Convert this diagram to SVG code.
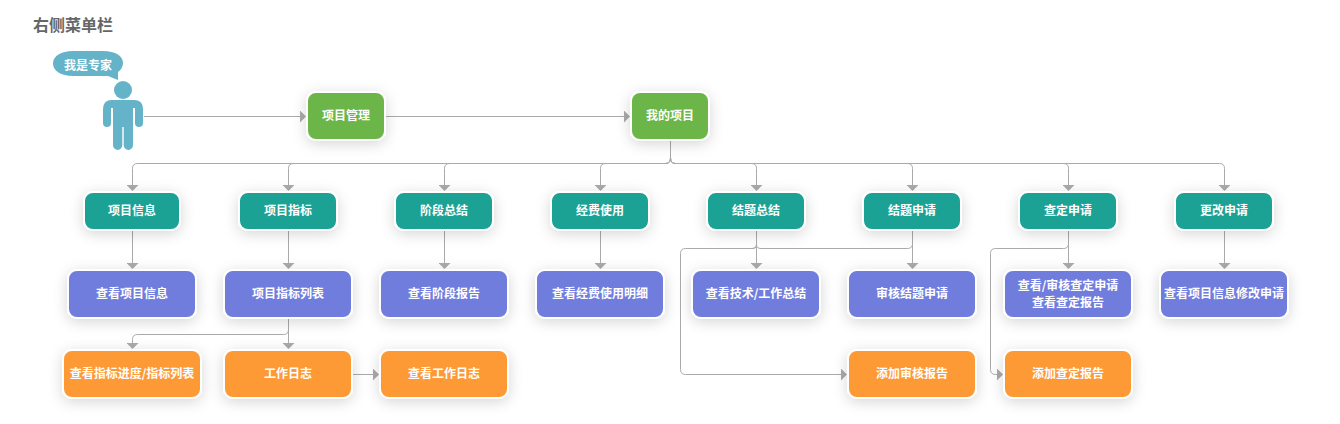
<svg xmlns="http://www.w3.org/2000/svg" width="1340" height="424" viewBox="0 0 1340 424">
<style>
text{font-family:"Noto Sans CJK SC","Liberation Sans",sans-serif;font-weight:700;font-size:12px;fill:#fff;text-anchor:middle}
.title{font-size:16px;fill:#666;text-anchor:start}
.n rect{stroke:#fff;stroke-width:2;filter:url(#sh)}
.g rect{fill:#6cb648}.t rect{fill:#1ba295}.p rect{fill:#717ddc}.o rect{fill:#fe9a34}
#connectors path{fill:none;stroke:#aaa;stroke-width:1;marker-end:url(#ah)}
#connectors path.j{marker-end:none}
.fig{fill:#65b3c8}
</style>
<defs>
<filter id="sh" x="-40%" y="-60%" width="180%" height="220%"><feDropShadow dx="0" dy="3" stdDeviation="7" flood-color="#000" flood-opacity=".16"/></filter>
<marker id="ah" viewBox="0 0 6 12" refX="0" refY="6" markerWidth="6" markerHeight="12" markerUnits="userSpaceOnUse" orient="auto"><path d="M0 0L6 6L0 12Z" fill="#aaa"/></marker>
</defs>
<text class="title" x="33" y="31">右侧菜单栏</text>
<g id="connectors">
<path d="M144 116.500H300"/>
<path d="M386 116.500H624"/>
<path d="M670.500 141V158Q670.500 163.500 665.500 163.500H137.500Q132.500 163.500 132.500 168.500V185"/>
<path d="M670.500 141V158Q670.500 163.500 665.500 163.500H293.500Q288.500 163.500 288.500 168.500V185"/>
<path d="M670.500 141V158Q670.500 163.500 665.500 163.500H449.500Q444.500 163.500 444.500 168.500V185"/>
<path d="M670.500 141V158Q670.500 163.500 665.500 163.500H605.500Q600.500 163.500 600.500 168.500V185"/>
<path d="M670.500 141V158Q670.500 163.500 675.500 163.500H751.500Q756.500 163.500 756.500 168.500V185"/>
<path d="M670.500 141V158Q670.500 163.500 675.500 163.500H907.500Q912.500 163.500 912.500 168.500V185"/>
<path d="M670.500 141V158Q670.500 163.500 675.500 163.500H1063.500Q1068.500 163.500 1068.500 168.500V185"/>
<path d="M670.500 141V158Q670.500 163.500 675.500 163.500H1219.500Q1224.500 163.500 1224.500 168.500V185"/>
<path d="M132.500 231V263"/>
<path d="M288.500 231V263"/>
<path d="M444.500 231V263"/>
<path d="M600.500 231V263"/>
<path d="M756.500 231V263"/>
<path d="M912.500 231V263"/>
<path d="M1068.500 231V263"/>
<path d="M1224.500 231V263"/>
<path class="j" d="M912.500 243.500Q912.500 248.500 907.500 248.500H761Q756.500 248.500 756.500 244.500Q756.500 248.500 752 248.500"/>
<path d="M756.500 244.500Q756.500 248.500 752 248.500H685.500Q680.500 248.500 680.500 253.500V369.500Q680.500 374.500 685.500 374.500H841"/>
<path d="M1068.500 243.500Q1068.500 248.500 1063.500 248.500H995.500Q990.500 248.500 990.500 253.500V369.500Q990.500 374.500 995.500 374.500H997"/>
<path d="M288.500 319V343"/>
<path d="M288.500 329.500Q288.500 334.500 283.500 334.500H137.500Q132.500 334.500 132.500 339.500V343"/>
<path d="M353 374.500H373"/>
</g>
<g id="expert">
<circle class="fig" cx="123" cy="90" r="9"/>
<path class="fig" d="M112 100H134Q143 100 143 109V123A4 4 0 0 1 135 123V108H133V145.300A4.650 4.650 0 0 1 123.700 145.300V127H122.300V145.300A4.650 4.650 0 0 1 113 145.300V108H111V123A4 4 0 0 1 103 123V109Q103 100 112 100Z"/>
<path class="fig" d="M73 51H103C116 51 123 56 123 63C123 67 120 71 118 72V80L108 76H73C61 76 53 71 53 63.500C53 56 61 51 73 51Z"/>
<text x="88" y="70">我是专家</text>
</g>
<g id="n1" class="n g"><rect x="307" y="92" width="78" height="48" rx="9"/><text x="346" y="120">项目管理</text></g>
<g id="n2" class="n g"><rect x="631" y="92" width="78" height="48" rx="9"/><text x="670" y="120">我的项目</text></g>
<g id="t1" class="n t"><rect x="84" y="192" width="96" height="38" rx="9"/><text x="132" y="215">项目信息</text></g>
<g id="t2" class="n t"><rect x="239" y="192" width="98" height="38" rx="9"/><text x="288" y="215">项目指标</text></g>
<g id="t3" class="n t"><rect x="395" y="192" width="98" height="38" rx="9"/><text x="444" y="215">阶段总结</text></g>
<g id="t4" class="n t"><rect x="551" y="192" width="98" height="38" rx="9"/><text x="600" y="215">经费使用</text></g>
<g id="t5" class="n t"><rect x="707" y="192" width="98" height="38" rx="9"/><text x="756" y="215">结题总结</text></g>
<g id="t6" class="n t"><rect x="863" y="192" width="98" height="38" rx="9"/><text x="912" y="215">结题申请</text></g>
<g id="t7" class="n t"><rect x="1019" y="192" width="98" height="38" rx="9"/><text x="1068" y="215">查定申请</text></g>
<g id="t8" class="n t"><rect x="1175" y="192" width="98" height="38" rx="9"/><text x="1224" y="215">更改申请</text></g>
<g id="p1" class="n p"><rect x="68" y="270" width="128" height="48" rx="9"/><text x="132" y="298">查看项目信息</text></g>
<g id="p2" class="n p"><rect x="224" y="270" width="128" height="48" rx="9"/><text x="288" y="298">项目指标列表</text></g>
<g id="p3" class="n p"><rect x="380" y="270" width="128" height="48" rx="9"/><text x="444" y="298">查看阶段报告</text></g>
<g id="p4" class="n p"><rect x="536" y="270" width="128" height="48" rx="9"/><text x="600" y="298">查看经费使用明细</text></g>
<g id="p5" class="n p"><rect x="692" y="270" width="128" height="48" rx="9"/><text x="756" y="298">查看技术/工作总结</text></g>
<g id="p6" class="n p"><rect x="848" y="270" width="128" height="48" rx="9"/><text x="912" y="298">审核结题申请</text></g>
<g id="p7" class="n p"><rect x="1004" y="270" width="128" height="48" rx="9"/><text x="1068" y="290">查看/审核查定申请</text><text x="1068" y="307">查看查定报告</text></g>
<g id="p8" class="n p"><rect x="1160" y="270" width="128" height="48" rx="9"/><text x="1224" y="298">查看项目信息修改申请</text></g>
<g id="o1" class="n o"><rect x="63" y="350" width="138" height="48" rx="9"/><text x="132" y="378">查看指标进度/指标列表</text></g>
<g id="o2" class="n o"><rect x="224" y="350" width="128" height="48" rx="9"/><text x="288" y="378">工作日志</text></g>
<g id="o3" class="n o"><rect x="380" y="350" width="128" height="48" rx="9"/><text x="444" y="378">查看工作日志</text></g>
<g id="o4" class="n o"><rect x="848" y="350" width="128" height="48" rx="9"/><text x="912" y="378">添加审核报告</text></g>
<g id="o5" class="n o"><rect x="1004" y="350" width="128" height="48" rx="9"/><text x="1068" y="378">添加查定报告</text></g>
</svg>
